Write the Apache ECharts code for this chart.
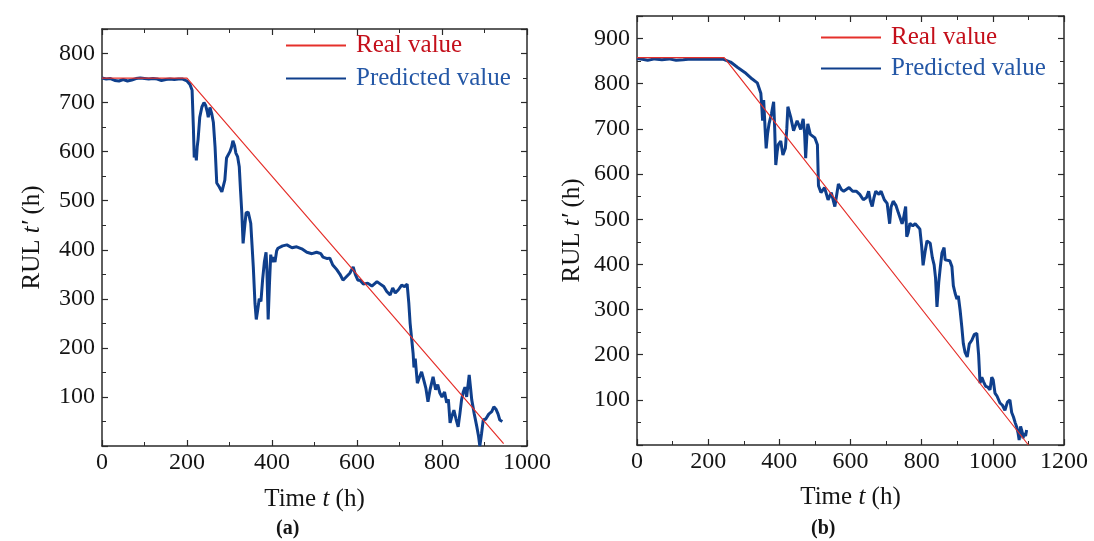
<!DOCTYPE html>
<html>
<head>
<meta charset="utf-8">
<script src="https://cdn.jsdelivr.net/npm/echarts@6/dist/echarts.min.js"></script>
<style>
  html, body { margin: 0; padding: 0; background: #fff; }
  #main { width: 1094px; height: 541px; }
</style>
</head>
<body>
<div id="main"></div>
<script>
// (a) real and predicted RUL, [time, rul]
var realA = [[0, 750], [200, 750], [945, 5]];
var predA = [
  [0, 750], [10, 748], [20, 749], [30, 745], [40, 744], [50, 747], [60, 744], [70, 746], [80, 749], [90, 750],
  [100, 749], [110, 748], [120, 749], [130, 748], [140, 745], [150, 747], [160, 748], [170, 747], [180, 748],
  [190, 748], [200, 744], [207, 737], [212, 725], [215, 650], [217, 588], [220, 600], [222, 582], [224, 610],
  [226, 624], [230, 670], [235, 691], [240, 700], [244, 694], [248, 680], [250, 670], [254, 690], [258, 678],
  [262, 660], [266, 610], [270, 536], [276, 528], [282, 518], [289, 542], [293, 587], [301, 600], [305, 610],
  [308, 622], [312, 612], [315, 597], [319, 590], [323, 569], [326, 520], [329, 475], [332, 413], [336, 450],
  [339, 475], [344, 477], [350, 454], [353, 410], [356, 365], [360, 290], [363, 258], [366, 275], [370, 300],
  [374, 295], [378, 340], [382, 375], [386, 395], [388, 360], [391, 258], [394, 330], [397, 390], [400, 375],
  [404, 385], [407, 375], [411, 398], [414, 403], [425, 408], [435, 410], [447, 404], [458, 406], [470, 402],
  [482, 395], [494, 392], [505, 395], [515, 392], [520, 385], [530, 382], [536, 383], [543, 369], [552, 360],
  [560, 350], [567, 338], [575, 345], [583, 352], [591, 365], [596, 350], [602, 338], [607, 338], [615, 330],
  [625, 332], [635, 326], [647, 335], [655, 330], [663, 325], [670, 315], [678, 308], [684, 322], [690, 312],
  [697, 318], [705, 328], [712, 325], [718, 330], [722, 290], [725, 250], [729, 215], [732, 189], [734, 160],
  [737, 178], [742, 128], [747, 140], [752, 151], [757, 135], [762, 118], [767, 90], [772, 115], [779, 141],
  [785, 115], [790, 125], [795, 108], [800, 100], [806, 110], [811, 88], [815, 95], [819, 47], [823, 60],
  [828, 73], [833, 55], [838, 39], [842, 65], [846, 94], [850, 110], [854, 120], [858, 100], [864, 145],
  [867, 120], [870, 94], [876, 65], [882, 39], [886, 20], [889, 0], [893, 25], [897, 53], [903, 55], [910, 65],
  [917, 70], [922, 80], [927, 75], [932, 65], [936, 53], [942, 50]
];

// (b)
var realB = [[0, 858], [245, 858], [1100, 0]];
var predB = [
  [0, 856], [15, 854], [30, 852], [50, 855], [70, 853], [90, 855], [110, 852], [130, 853], [150, 855],
  [170, 854], [190, 855], [210, 854], [230, 855], [243, 854], [263, 848], [283, 836], [303, 825], [323, 811],
  [338, 802], [348, 779], [351, 745], [353, 718], [356, 764], [360, 700], [363, 657], [367, 690], [371, 711],
  [378, 734], [384, 760], [387, 700], [390, 620], [394, 650], [397, 665], [404, 673], [410, 642], [417, 657],
  [421, 700], [424, 749], [432, 726], [440, 696], [450, 718], [460, 699], [467, 722], [471, 690], [474, 635],
  [477, 680], [480, 711], [487, 688], [500, 680], [507, 665], [510, 574], [517, 559], [527, 570], [537, 543],
  [546, 559], [556, 528], [566, 578], [575, 565], [581, 562], [596, 570], [606, 562], [616, 562], [626, 555],
  [636, 543], [645, 548], [651, 562], [656, 540], [661, 528], [666, 548], [671, 562], [680, 555], [686, 562],
  [695, 543], [703, 535], [710, 490], [714, 527], [720, 540], [728, 530], [735, 513], [745, 490], [748, 498],
  [755, 528], [758, 461], [762, 470], [767, 491], [775, 485], [782, 490], [790, 483], [795, 478], [800, 440],
  [804, 398], [810, 430], [815, 452], [824, 447], [830, 415], [835, 399], [839, 370], [843, 306], [848, 360],
  [852, 391], [857, 425], [863, 437], [866, 410], [871, 406], [879, 408], [885, 395], [889, 353], [894, 336],
  [899, 323], [903, 330], [908, 299], [913, 260], [917, 225], [922, 205], [928, 195], [934, 224], [941, 232],
  [948, 245], [955, 247], [960, 200], [964, 137], [969, 150], [974, 140], [980, 130], [986, 128], [992, 122],
  [997, 150], [1001, 144], [1006, 115], [1012, 108], [1020, 93], [1027, 88], [1034, 77], [1041, 95],
  [1048, 100], [1053, 72], [1058, 62], [1063, 49], [1067, 40], [1071, 26], [1074, 11], [1078, 41],
  [1082, 30], [1085, 15], [1088, 26], [1092, 20], [1095, 33]
];

var serif = '"Liberation Serif", "DejaVu Serif", serif';
var redLine = '#e5302b';
var blueLine = '#0f3f8c';
var redText = '#c40f1a';
var blueText = '#2457a6';
var axisColor = '#2a2a2a';
var textColor = '#151515';

function nameRich() {
  return {
    fontFamily: serif, fontSize: 25, color: textColor,
    rich: {
      n: { fontFamily: serif, fontSize: 25, color: textColor },
      i: { fontFamily: serif, fontSize: 25, color: textColor, fontStyle: 'italic' }
    }
  };
}

function axisCommon(grid, max, interval) {
  return {
    type: 'value', gridIndex: grid, min: 0, max: max, interval: interval,
    axisLine: { show: true, onZero: false, lineStyle: { color: axisColor, width: 1.5 } },
    axisTick: { show: true, inside: true, length: 6, lineStyle: { color: axisColor, width: 1.2 } },
    minorTick: { show: true, splitNumber: 2, length: 4, lineStyle: { color: axisColor, width: 1 } },
    splitLine: { show: false }
  };
}

function xAxes(grid, max, name, gap) {
  var common = axisCommon(grid, max, 200);
  return [
    Object.assign({}, common, {
      position: 'bottom',
      name: name, nameLocation: 'middle', nameGap: gap, nameTextStyle: nameRich(),
      axisLabel: { fontFamily: serif, fontSize: 24, color: textColor, margin: 5,
        formatter: function (v) { return String(v); } }
    }),
    Object.assign({}, common, { position: 'top', axisLabel: { show: false } })
  ];
}

function yAxes(grid, max, name, gap) {
  var common = axisCommon(grid, max, 100);
  return [
    Object.assign({}, common, {
      position: 'left',
      name: name, nameLocation: 'middle', nameGap: gap, nameTextStyle: nameRich(),
      axisLabel: { fontFamily: serif, fontSize: 24, color: textColor, margin: 7,
        showMinLabel: false, showMaxLabel: false,
        formatter: function (v) { return String(v); } }
    }),
    Object.assign({}, common, { position: 'right', axisLabel: { show: false } })
  ];
}

function legend(left, top, gap) {
  return {
    orient: 'vertical', left: left, top: top, itemWidth: 60, itemHeight: 2, itemGap: gap,
    textStyle: { fontFamily: serif, fontSize: 25, padding: [0, 0, 0, 5] },
    itemStyle: { opacity: 0 },
    data: [
      { name: 'Real value', textStyle: { color: redText } },
      { name: 'Predicted value', textStyle: { color: blueText } }
    ]
  };
}

var chart = echarts.init(document.getElementById('main'));
var timeName = '{n|Time }{i|t}{n| (h)}';
var rulName = '{n|RUL }{i|t′}{n| (h)}';

chart.setOption({
  animation: false,
  backgroundColor: '#fff',
  grid: [
    { left: 102, top: 29, width: 425, height: 417 },
    { left: 637, top: 16, width: 427, height: 429 }
  ],
  legend: [legend(280, 28, 8), legend(815, 20, 6)],
  xAxis: xAxes(0, 1000, timeName, 41).concat(xAxes(1, 1200, timeName, 40)),
  yAxis: yAxes(0, 850, rulName, 57).concat(yAxes(1, 950, rulName, 52)),
  graphic: [
    { type: 'text', left: 276, top: 519, style: { text: '(a)', font: 'bold 20px ' + serif, fill: textColor } },
    { type: 'text', left: 811, top: 519, style: { text: '(b)', font: 'bold 20px ' + serif, fill: textColor } }
  ],
  series: [
    { name: 'Real value', type: 'line', xAxisIndex: 0, yAxisIndex: 0, data: realA, symbol: 'none',
      lineStyle: { color: redLine, width: 1.2 }, itemStyle: { color: redLine }, z: 3 },
    { name: 'Predicted value', type: 'line', xAxisIndex: 0, yAxisIndex: 0, data: predA, symbol: 'none',
      lineStyle: { color: blueLine, width: 3 }, itemStyle: { color: blueLine }, z: 2 },
    { name: 'Real value', type: 'line', xAxisIndex: 2, yAxisIndex: 2, data: realB, symbol: 'none',
      lineStyle: { color: redLine, width: 1.2 }, itemStyle: { color: redLine }, z: 3 },
    { name: 'Predicted value', type: 'line', xAxisIndex: 2, yAxisIndex: 2, data: predB, symbol: 'none',
      lineStyle: { color: blueLine, width: 3 }, itemStyle: { color: blueLine }, z: 2 }
  ]
});
</script>
</body>
</html>
